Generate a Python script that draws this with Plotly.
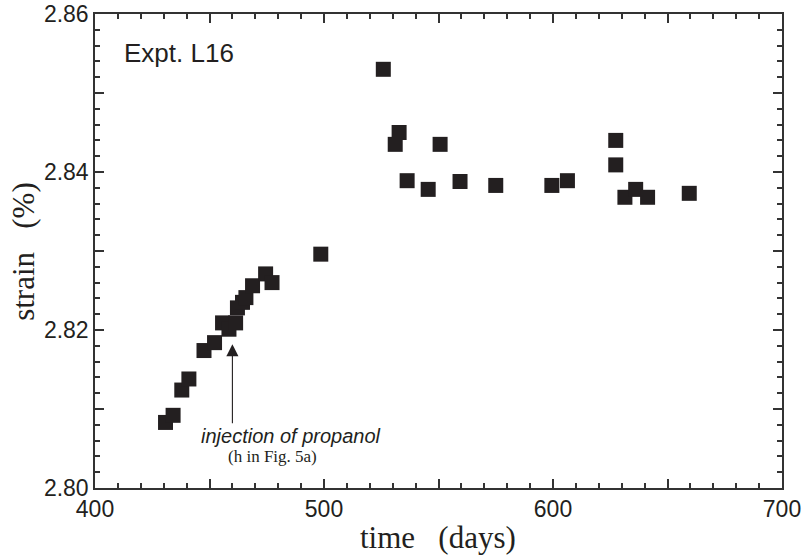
import plotly.graph_objects as go

# data
days = [430.8, 434.1, 437.9, 441.0, 447.6, 452.2, 455.7, 458.5, 461.4, 462.2,
        464.4, 465.9, 468.8, 474.5, 477.3, 498.6, 525.9, 531.1, 532.8, 536.3,
        545.5, 550.7, 559.4, 575.0, 599.5, 606.3, 627.4, 627.4, 631.4, 636.1,
        641.3, 659.5]
strain = [2.8083, 2.8092, 2.8124, 2.8138, 2.8174, 2.8184, 2.8209, 2.8201, 2.8209, 2.8228,
          2.8235, 2.8241, 2.8256, 2.8271, 2.8260, 2.8296, 2.8530, 2.8435, 2.8450, 2.8389,
          2.8378, 2.8435, 2.8388, 2.8383, 2.8383, 2.8389, 2.8440, 2.8409, 2.8368, 2.8378,
          2.8368, 2.8373]

x_tickvals = [400, 450, 500, 550, 600, 650, 700]
x_ticktext = ["400", "", "500", "", "600", "", "700"]
y_tickvals = [2.80, 2.81, 2.82, 2.83, 2.84, 2.85, 2.86]
y_ticktext = ["2.80", "", "2.82", "", "2.84", "", "2.86"]

INK = "#231f20"
AX = "#333333"
SANS = "Liberation Sans, Arial, sans-serif"
SERIF = "Liberation Serif, Times New Roman, serif"

fig = go.Figure()
fig.add_trace(go.Scatter(
    x=days, y=strain, mode="markers",
    marker=dict(symbol="square", size=15, color=INK, line=dict(width=0)),
    showlegend=False, hoverinfo="skip"))

axis_common = dict(
    showgrid=False, zeroline=False, showline=True, linecolor=AX, linewidth=1.5,
    mirror="ticks", ticks="inside", ticklen=9, tickwidth=1.5, tickcolor=AX,
    tickfont=dict(family=SANS, size=23, color=INK), tickmode="array",
    ticklabeloverflow="allow", automargin=False,
)

fig.update_xaxes(range=[400, 700], tickvals=x_tickvals, ticktext=x_ticktext,
                 minor=dict(tickmode="linear", tick0=400, dtick=10, ticks="inside",
                            ticklen=5, tickwidth=1.5, tickcolor=AX),
                 **axis_common)
fig.update_yaxes(range=[2.80, 2.86], tickvals=y_tickvals, ticktext=y_ticktext,
                 minor=dict(tickmode="linear", tick0=2.80, dtick=0.002, ticks="inside",
                            ticklen=5, tickwidth=1.5, tickcolor=AX),
                 **axis_common)

annotations = [
    dict(text="Expt. L16", x=412.0, y=2.8551, xref="x", yref="y", xanchor="left",
         yanchor="middle", showarrow=False, font=dict(family=SANS, size=26, color=INK)),
    dict(text="<i>injection of propanol</i>", x=485.5, y=2.8066, xref="x", yref="y",
         xanchor="center", yanchor="middle", showarrow=False,
         font=dict(family=SANS, size=20, color=INK)),
    dict(text="(h in Fig. 5a)", x=477.7, y=2.8040, xref="x", yref="y",
         xanchor="center", yanchor="middle", showarrow=False,
         font=dict(family=SERIF, size=17, color=INK)),
    dict(text="", x=460.0, y=2.8182, ax=460.0, ay=2.8080, xref="x", yref="y",
         axref="x", ayref="y", showarrow=True, arrowhead=2, arrowsize=2.2,
         arrowwidth=1.1, arrowcolor=INK),
    dict(text="time\u00a0\u00a0\u00a0(days)", x=0.499, y=-0.105, xref="paper", yref="paper",
         xanchor="center", yanchor="middle", showarrow=False,
         font=dict(family=SERIF, size=31, color=INK)),
    dict(text="strain\u00a0\u00a0\u00a0(%)", x=-0.105, y=0.50, xref="paper", yref="paper",
         xanchor="center", yanchor="middle", showarrow=False, textangle=-90,
         font=dict(family=SERIF, size=31, color=INK)),
]

fig.update_layout(
    template="none",
    width=806, height=556,
    margin=dict(l=95, r=24, t=14, b=68, autoexpand=False),
    paper_bgcolor="white", plot_bgcolor="white",
    annotations=annotations,
)

# remove the browser's default 8px body margin so the figure fills the window
fig.write_html("out.html",
               config={"displayModeBar": False},
               post_script="document.body.style.margin='0';document.body.style.overflow='hidden';")
